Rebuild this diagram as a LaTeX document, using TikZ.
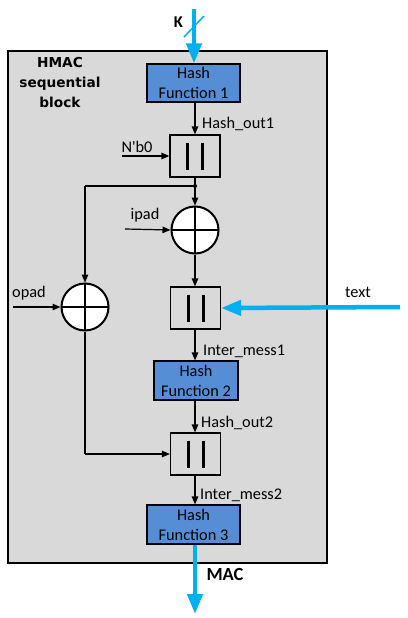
\documentclass[tikz,border=0pt]{standalone}
\usepackage{fontspec}
\setmainfont{Carlito}
\newfontfamily\dejab{DejaVu Sans}
\usetikzlibrary{arrows.meta,calc}
\definecolor{bggray}{HTML}{D9D9D9}
\definecolor{hfblue}{HTML}{558ED5}
\definecolor{cyanarr}{HTML}{00B0F0}
\begin{document}
\begin{tikzpicture}[x=1pt,y=-1pt,
  hashbox/.style={draw=black, line width=1.2pt, fill=hfblue, minimum width=93pt, minimum height=38pt,
    align=center, inner sep=0pt, font=\fontsize{16.3}{20}\selectfont},
  concat/.style={draw=black, line width=1.2pt, minimum width=50pt, minimum height=42pt, inner sep=0pt,
    path picture={
      \draw[line width=3pt] ([xshift=-7.5pt,yshift=13.5pt]path picture bounding box.center) -- ++(0,27);
      \draw[line width=3pt] ([xshift=7.5pt,yshift=13.5pt]path picture bounding box.center) -- ++(0,27);}},
  xorc/.style={circle, draw=black, fill=white, line width=2pt, minimum size=47pt, inner sep=0pt,
    path picture={
      \draw[line width=1.6pt] (path picture bounding box.north) -- (path picture bounding box.south)
        (path picture bounding box.west) -- (path picture bounding box.east);}},
  sig/.style={line width=1.2pt, -{Triangle[length=8pt,width=6.5pt]}},
  wire/.style={line width=1.2pt},
  bigarr/.style={cyanarr, line width=4.5pt, -{Triangle[length=20pt,width=15pt]}},
  lab/.style={font=\fontsize{16.3}{18}\selectfont, inner sep=0pt},
  blab/.style={font=\dejab\bfseries\fontsize{13.7}{20}\selectfont, inner sep=0pt, align=center},
]
\useasboundingbox (0,0) rectangle (407,618);
\fill[white] (0,0) rectangle (407,618);
\draw[fill=bggray, line width=1.5pt] (8,51) rectangle (327,563);

\node[blab] (title) at (60,83) {HMAC\\sequential\\block};

\node[hashbox] (hf1) at (193.5,83) {Hash\\Function 1};
\node[concat] (c1) at (195,156) {};
\coordinate (dot) at (195,186);
\node[xorc] (x1) at (195,230) {};
\node[concat] (c2) at (195.5,308) {};
\node[xorc] (x2) at (85,307) {};
\node[hashbox, minimum width=84pt, minimum height=39pt] (hf2) at (196,380.5) {Hash\\Function 2};
\node[concat] (c3) at (195.5,454) {};
\node[hashbox, minimum height=39pt] (hf3) at (193.5,524.5) {Hash\\Function 3};

% inputs
\coordinate (kin) at (194,9);
\coordinate (nin) at (122,156);
\coordinate (iin) at (125,229);
\coordinate (oin) at (13,307);
\coordinate (tin) at (400,307);
\coordinate (macout) at (195,614);
\coordinate (lft) at (85,186);
\coordinate (lbot) at (85,454);

\draw[bigarr] (kin) -- (kin |- hf1.north);
\draw[cyanarr, line width=1.5pt] (184,37) -- (204,16);
\node[font=\bfseries\fontsize{16.5}{18}\selectfont, inner sep=0pt] (klab) at (178.5,22.5) {K};

\draw[sig] (hf1.south -| c1.north) -- (c1.north);
\node[lab, anchor=west] (ho1) at (202,124) {Hash\_out1};
\draw[sig] (nin) -- (c1.west);
\node[lab] (nlab) at (137,147) {N\textquotesingle b0};

\draw[wire] (c1.south) -- (dot);
\fill (dot) circle (2pt);
\draw[sig] (dot) -- (x1.north);
\draw[wire] (dot) -- (lft);
\draw[sig] (lft) -- (x2.north);
\draw[sig] (iin) -- (x1.west);
\node[lab] (ilab) at (145,215) {ipad};
\draw[sig] (oin) -- (x2.west);
\node[lab] (olab) at (29,293) {opad};

\draw[sig] (x1.south) -- (x1.south |- c2.north);
\draw[bigarr] (tin) -- (c2.east);
\node[lab] (tlab) at (358,292) {text};

\draw[sig] (c2.south -| 195,0) -- (195,0 |- hf2.north);
\node[lab, anchor=west] (im1) at (203,351) {Inter\_mess1};

\draw[sig] (hf2.south -| 195,0) -- (195,0 |- c3.north);
\node[lab, anchor=west] (ho2) at (201,423) {Hash\_out2};

\draw[wire] (x2.south) -- (lbot);
\draw[sig] (lbot) -- (c3.west);

\draw[sig] (c3.south -| 195,0) -- (195,0 |- hf3.north);
\node[lab, anchor=west] (im2) at (200,495) {Inter\_mess2};

\draw[bigarr] (hf3.south -| macout) -- (macout);
\node[font=\bfseries\fontsize{18.5}{20}\selectfont, inner sep=0pt] (maclab) at (225,574.5) {MAC};
\end{tikzpicture}
\end{document}
